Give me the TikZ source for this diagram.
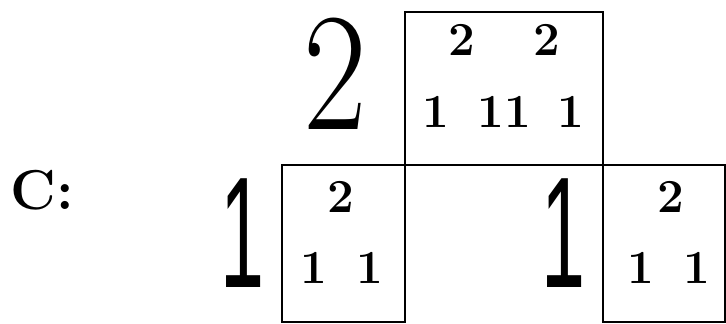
\documentclass[tikz,border=0pt]{standalone}
\usepackage{fontspec}
\usepackage{tikz}
\usetikzlibrary{positioning}
\newfontfamily\twofont[FakeStretch=0.82]{Latin Modern Roman}
\newfontfamily\onefont[FakeStretch=0.5]{Liberation Sans}

\begin{document}
\begin{tikzpicture}[x=0.02cm,y=-0.02cm,
  cell/.style={draw,line width=1.5pt,inner sep=0pt},
  small/.style={font=\fontsize{27}{27}\selectfont\bfseries,inner sep=0pt},
  bigtwo/.style={font=\fontsize{96}{96}\selectfont\twofont,inner sep=3pt},
  bigone/.style={font=\fontsize{90}{90}\selectfont\onefont,inner sep=3pt}]
\useasboundingbox (0,0) rectangle (726,324);
\node[cell,minimum width=198*0.02cm,minimum height=153*0.02cm] (top) at (504,88.5) {};
\node[cell,minimum width=123*0.02cm,minimum height=157*0.02cm] (left) at (343.5,243.5) {};
\node[cell,minimum width=122*0.02cm,minimum height=157*0.02cm] (right) at (664,243.5) {};
\node[font=\fontsize{32}{32}\selectfont\bfseries,inner sep=0pt] (lab) at (42,190) {C:};
\node[bigtwo] (two) at (335,74) {2};
\node[bigone] (oneleft) at (242,233) {1};
\node[bigone] (onemid) at (563,233) {1};
\node[small] (t1) at (462,40) {2};
\node[small] (t2) at (547,40) {2};
\node[small] (t3) at (436,112) {1};
\node[small] (t4) at (504,112) {11};
\node[small] (t5) at (571,112) {1};
\node[small] (l1) at (341,197) {2};
\node[small] (l2) at (314,268) {1};
\node[small] (l3) at (370,268) {1};
\node[small] (r1) at (671,197) {2};
\node[small] (r2) at (641,268) {1};
\node[small] (r3) at (697,268) {1};
\end{tikzpicture}
\end{document}
